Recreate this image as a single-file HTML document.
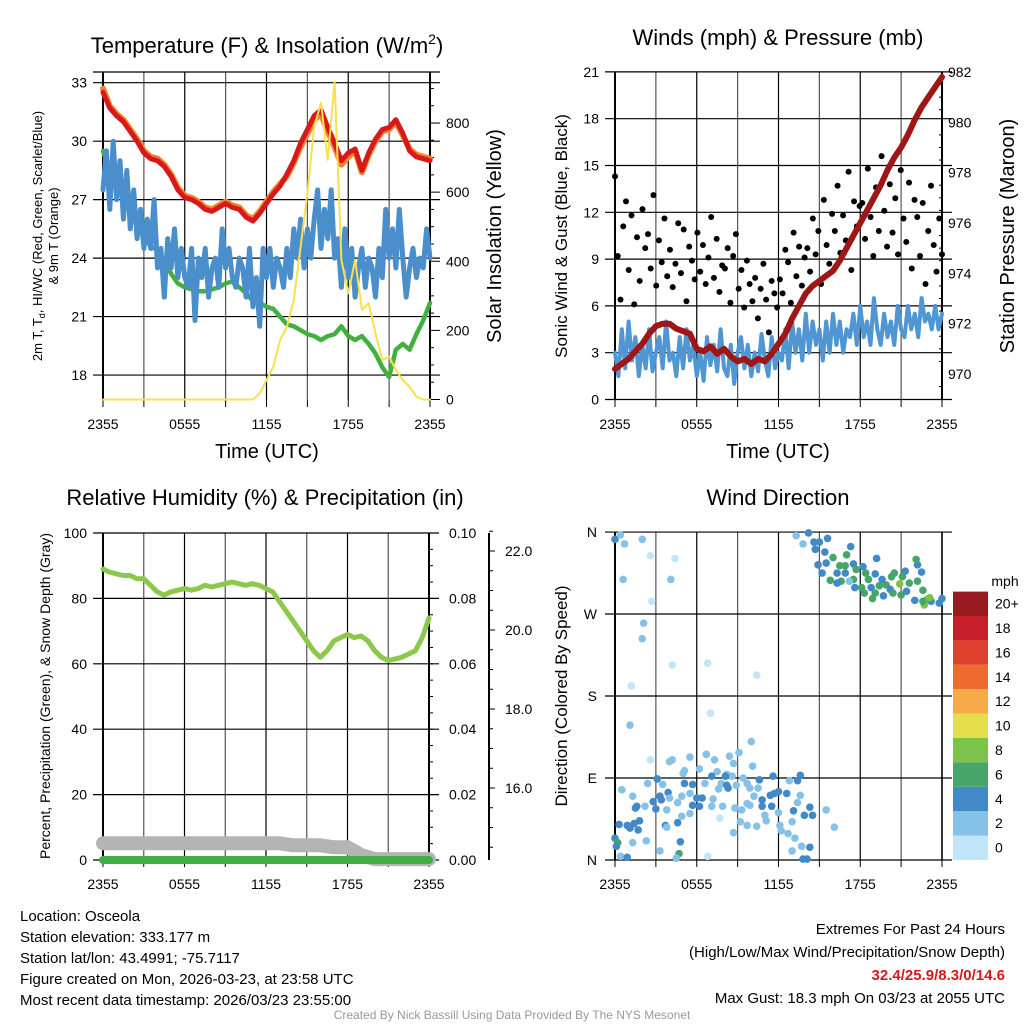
<!DOCTYPE html>
<html><head><meta charset="utf-8">
<style>
html,body{margin:0;padding:0;background:#fff;}
svg{display:block;font-family:"Liberation Sans",Arial,sans-serif;}
</style></head>
<body>
<svg id="chart" width="1024" height="1024" viewBox="0 0 1024 1024" xmlns="http://www.w3.org/2000/svg">
<rect x="0" y="0" width="1024" height="1024" fill="#fff"/>
<text x="267" y="53" font-size="22" text-anchor="middle">Temperature (F) &amp; Insolation (W/m<tspan font-size="14" dy="-9">2</tspan><tspan dy="9">)</tspan></text>
<text x="778" y="45" font-size="22" text-anchor="middle">Winds (mph) &amp; Pressure (mb)</text>
<text x="265" y="505" font-size="22" text-anchor="middle">Relative Humidity (%) &amp; Precipitation (in)</text>
<text x="778" y="505" font-size="22" text-anchor="middle">Wind Direction</text>
<text x="267" y="458" font-size="20" text-anchor="middle">Time (UTC)</text>
<text x="778" y="458" font-size="20" text-anchor="middle">Time (UTC)</text>
<text transform="translate(42,236) rotate(-90)" font-size="13" text-anchor="middle">2m T, T<tspan font-size="9" dy="3">d</tspan><tspan dy="-3">, HI/WC (Red, Green, Scarlet/Blue)</tspan></text>
<text transform="translate(58,236) rotate(-90)" font-size="13" text-anchor="middle">&amp; 9m T (Orange)</text>
<text transform="translate(501,236) rotate(-90)" font-size="20" text-anchor="middle">Solar Insolation (Yellow)</text>
<text transform="translate(567,236) rotate(-90)" font-size="17" text-anchor="middle">Sonic Wind &amp; Gust (Blue, Black)</text>
<text transform="translate(1014,236) rotate(-90)" font-size="20" text-anchor="middle">Station Pressure (Maroon)</text>
<text transform="translate(50,696) rotate(-90)" font-size="14" text-anchor="middle">Percent, Precipitation (Green), &amp; Snow Depth (Gray)</text>
<text transform="translate(567,696) rotate(-90)" font-size="17" text-anchor="middle">Direction (Colored By Speed)</text>
<g font-size="15">
<text x="20" y="921">Location: Osceola</text>
<text x="20" y="942">Station elevation: 333.177 m</text>
<text x="20" y="963">Station lat/lon: 43.4991; -75.7117</text>
<text x="20" y="984">Figure created on Mon, 2026-03-23, at 23:58 UTC</text>
<text x="20" y="1005">Most recent data timestamp: 2026/03/23 23:55:00</text>
</g>
<g font-size="15" text-anchor="end">
<text x="1005" y="934">Extremes For Past 24 Hours</text>
<text x="1005" y="957">(High/Low/Max Wind/Precipitation/Snow Depth)</text>
<text x="1005" y="980" fill="#d7191c" font-weight="bold">32.4/25.9/8.3/0/14.6</text>
<text x="1005" y="1003">Max Gust: 18.3 mph On 03/23 at 2055 UTC</text>
</g>
<text x="512" y="1019" font-size="12" fill="#999" text-anchor="middle">Created By Nick Bassill Using Data Provided By The NYS Mesonet</text>
<g id="layer"></g>
</svg>
<script>
// ---------- data ----------
const timeLabels = ["2355","0555","1155","1755","2355"];
const tempTicks = [18,21,24,27,30,33];
const insolTicks = [0,200,400,600,800];
const windTicks = [0,3,6,9,12,15,18,21];
const pressTicks = [970,972,974,976,978,980,982];
const rhTicks = [0,20,40,60,80,100];
const precipTicks = ["0.00","0.02","0.04","0.06","0.08","0.10"];
const snowTicks = ["16.0","18.0","20.0","22.0"];
const dirLabels = ["N","E","S","W","N"];
const speedBins = ["0","2","4","6","8","10","12","14","16","18","20+"];
const speedColors = ["#c2e6f9","#86c2e8","#4289c8","#47a56a","#7dc24b","#e6df4c","#f6aa48","#ef6a2e","#e0412f","#c61f29","#98191f"];

const tempRed = [32.5,31.7,31.3,31,30.5,30,29.4,29.1,29,28.7,28.2,27.5,27.1,27,26.8,26.5,26.4,26.6,26.8,26.6,26.5,26.1,25.9,26.3,26.8,27.3,27.7,28.3,29,29.9,30.6,31.3,31.6,30.7,29.9,29,29.4,29.6,28.5,29.4,30.1,30.6,30.7,31.1,30.4,29.5,29.2,29.1,29];
const tempOrange = [32.7,31.8,31.4,31.1,30.6,30.1,29.5,29.2,29.1,28.8,28.3,27.6,27.2,27.1,26.9,26.6,26.5,26.7,26.9,26.7,26.6,26.2,26,26.4,26.9,27.4,27.8,28.2,28.9,29.7,30.4,31.1,31.4,30.5,29.7,28.8,29.2,29.5,28.4,29.3,30,30.5,30.6,31,30.3,29.6,29.3,29.2,29.1];
const tempGreen = [29.5,28.5,28,27.3,26.6,25.9,25.1,24.6,24.4,23.9,23.2,22.7,22.5,22.4,22.3,22.3,22.4,22.5,22.7,22.8,22.5,22.2,21.8,21.7,21.5,21.4,21,20.6,20.5,20.3,20.1,20,19.8,20,20.1,20.5,20,19.8,20,19.6,19.1,18.4,17.9,19.3,19.6,19.3,20.1,20.8,21.7];
const tempBlue = [27.5,29.5,26.5,30,27, 29,26,28.5,25.5, 27.5,25,26.5,24.5, 26,24.5,27,23.5, 24.5,22,25,23.5, 25.5,23,24.5,23, 22.5,24.5,20.8,24, 23,24.5,22,23.5, 24,22.5,25.5,23.5, 24.5,23,22.5,24, 23.5,22,24.5,21.5, 23,20.5,24.5,23, 24.5,22.5,24,23.5, 22.5,24.5,23,25.5, 24,26,23.5,25.5, 24,26,27.5,24.5, 26.5,25,27.5,24, 25,22.5,25.5,23, 24.5,22,23.5,24.5, 22.5,24,23.5,22, 24.5,23,26.5,24, 25.5,23.5,26.5,24, 22,23.5,24.5,23, 24,23.5,25.5,24];
const insolation = [0,0,0,0,0,0,0,0,0,0,0,0,0,0,0,0,0,0,0,0,0,0,0,17,56,95,172,210,288,442,597,790,858,694,920,404,307,404,259,279,191,114,124,85,56,37,8,0,0];

const windSpeed = [3,1.5,4.5,2,5, 2.5,4,1.5,3.5, 2,4.5,1.8,3, 4,2,5,2.5, 3,1.5,4,2, 4.5,2.5,3.5,1.5, 3,1.2,4,2.2, 3.5,1.8,4.5,2, 1.5,3.5,1,3, 4,2,3.5,1.5, 3,1.8,4.2,2.5, 1.5,4,2,3, 2.5,4.5,2,5, 3,4.5,2.5,5.5, 3,5,3.5,4.5, 2.5,5,3,5.5, 3.5,5,3,4.5, 4,5.5,3.5,6, 4,5,3.5,6.5, 4.5,3.5,5.5,4, 5,3.5,6,4.5, 4,6,4.5,5.5, 4,6.5,5,5.5, 4.5,6,4.5,5.5];
const windGust = [14.3,9.2,6.4,11.1,12.7,8.3,11.8,6.1,10.4,7.6, 12.2,9.7,10.6,8.4,13.1,7.3,10.2,8.8,11.6,7.9, 9.6,7.2,8.7,11.3,8.1,10.9,6.3,9.8,8.9,7.7, 10.7,8.2,9.9,7.4,9.1,11.7,7.8,10.3,6.9,8.6, 8.4,9.7,6.2,9.2,10.6,7.1,8.3,5.9,8.9,7.4, 6.3,7.8,5.2,7.1,8.7,6.4,4.3,7.6,6.8,5.9, 7.7,6.8,9.6,8.8,6.2,10.7,7.9,9.8,7.3,9.1, 9.7,8.2,11.6,9.3,10.8,7.4,12.8,9.9,8.7,11.9, 10.8,13.7,9.4,11.8,10.2,14.6,8.3,12.7,11.1,12.4, 12.6,10.3,14.8,11.7,9.2,13.6,10.8,15.6,12.1,9.8, 13.8,10.7,12.9,9.3,14.7,11.6,10.1,13.9,8.4,12.8, 11.7,9.2,12.6,7.4,10.8,13.7,9.9,8.2,11.6,9.3];
const pressure = [970.2,970.4,970.6,970.9,971.2,971.6,971.9,972,972,971.8,971.7,971.6,971,970.9,971.1,970.8,971,970.7,970.5,970.6,970.4,970.6,970.5,970.8,971.2,971.6,972.2,972.7,973.2,973.5,973.7,973.9,974.1,974.5,975,975.5,976,976.5,977,977.5,978.1,978.6,979,979.5,980.1,980.6,981,981.4,981.8];

const relHumidity = [89,88,87.5,87,87,86,86,84,82,81,82,82.5,83,82.5,83,84,83.5,84,84.5,85,84.5,84,84.5,84,83,82,79,76,73,70,67,64,62,64,67,68,69,68,68.5,67,64,62,61,61.5,62,63,64,68,74];
const precipitation = [0,0,0,0,0,0,0,0,0,0,0,0,0,0,0,0,0,0,0,0,0,0,0,0,0];
const snowDepth = [14.6,14.6,14.6,14.6,14.6,14.6,14.6,14.6,14.6,14.6,14.6,14.6,14.6,14.6,14.55,14.55,14.55,14.5,14.5,14.3,14.2,14.2,14.2,14.2,14.2];

const dirHours = [0,0.4,0.7,2.0,2.6,4.4,0.6,4.1,2.7,2.1,2.0,4.2,6.8,10.4,1.2,7.0,1.1,10.0,2.6,
13.3,14.2,13.8,14.6,15.0,15.6,17.3,14.7,15.4,16.0,17.0,19.2,14.9,15.5,16.5,16.9,17.5,18.2,15.2,16.3,16.9,17.7,18.4,19.1,20.5,21.3,22.2,22.5,22.1,15.8,16.6,17.5,18.6,19.6,20.3,21.1,17.2,16.3,17.6,18.1,18.8,19.4,19.9,20.2,20.9,21.6,22.2,18.3,19.1,19.7,20.4,21.0,21.4,22.6,18.9,22.0,22.9,22.7,23.2,23.8,24.0,22.6,23.1,
3.1,3.5,2.4,0.5,1.3,3.3,3.4,3.9,2.8,4.0,1.6,2.2,1.5,3.0,3.8,4.6,1.8,1.4,0.9,0.3,1.1,1.7,3.7,3.8,4.6,4.9,0,0.2,0.1,1.3,2.3,3.3,4.8,4.7,0.4,0.9,4.5,6.8,13.8,14.1,
4.2,4.0,5.5,5.1,5.0,6.7,7.3,6.2,8.4,9.1,8.7,10.1,7.5,8.2,8.6,8.1,7.1,6.6,5.7,5.1,5.5,4.9,6.0,6.4,5.7,6.2,5.5,7.1,7.2,7.6,7.8,8.2,8.3,8.9,9.4,9.7,9.9,10.5,10.6,10.2,9.7,9.9,8.8,9.3,7.9,7.7,8.7,9.2,9.7,10.4,10.8,10.8,11.4,11.6,11.7,12.0,11.5,11.0,11.1,12.0,12.1,12.2,12.6,12.8,13.4,13.6,13.6,13.4,13.1,13.0,12.7,13.9,14.3,14.5,13.2,13.0,13.7,14.3,15.5,16.1];
const dirDegrees = [352,357,347,352,334,331,308,308,284,260,243,214,216,203,191,161,148,130,110,
356,359,347,349,349,353,344,341,338,332,335,331,324,326,323,323,325,322,315,315,315,319,315,314,315,317,324,316,330,307,306,308,308,308,311,311,306,304,299,299,299,301,302,297,303,304,306,293,293,290,293,291,295,296,287,285,286,280,284,282,287,284,288,
89,83,84,77,70,70,66,74,64,68,59,59,57,56,55,63,43,40,38,39,35,33,38,36,41,48,24,19,15,19,21,10,20,7,4,3,2,4,1,1,
110,108,113,98,95,116,110,100,114,118,106,103,97,94,92,92,92,84,83,84,73,70,68,68,60,59,51,59,67,78,84,82,79,82,90,84,79,79,88,70,62,60,57,55,59,46,30,42,38,37,59,66,71,92,73,75,59,49,43,52,38,32,73,87,87,93,71,63,54,42,29,49,58,49,24,10,15,14,55,36];
const dirSpeeds = [3.5,2,2,2,0.5,0.5,2,2,0.5,2,2,0.5,0.5,0.5,0.5,0.5,2,2,0.5,
2,3.5,2,3.5,3.5,3.5,3.5,3.5,3.5,5.5,5.5,3.5,3.5,3.5,5.5,5.5,3.5,3.5,3.5,3.5,3.5,5.5,5.5,3.5,5.5,3.5,3.5,3.5,5.5,5.5,5.5,5.5,5.5,3.5,5.5,5.5,2,3.5,3.5,5.5,3.5,5.5,5.5,3.5,7.5,5.5,5.5,5.5,5.5,3.5,5.5,5.5,3.5,5.5,5.5,3.5,7.5,7.5,3.5,3.5,3.5,5.5,7.5,
3.5,2,2,2,2,3.5,3.5,3.5,3.5,2,3.5,2,3.5,3.5,2,2,3.5,3.5,3.5,3.5,3.5,3.5,3.5,2,3.5,2,3.5,5.5,3.5,2,2,2,3.5,5.5,2,3.5,2,0.5,3.5,3.5,
2,2,2,2,2,2,2,2,2,2,2,2,2,2,2,3.5,3.5,2,3.5,3.5,2,2,3.5,3.5,3.5,3.5,2,2,2,2,2,3.5,3.5,2,2,2,2,2,3.5,2,2,2,2,2,2,0.5,2,2,2,2,3.5,3.5,3.5,3.5,3.5,3.5,3.5,2,2,2,2,2,3.5,2,3.5,3.5,2,2,3.5,2,2,3.5,3.5,3.5,2,2,2,3.5,2,2];

// ---------- helpers ----------
const NS = "http://www.w3.org/2000/svg";
const layer = document.getElementById("layer");
function mk(tag, attrs, parent) {
  const e = document.createElementNS(NS, tag);
  for (const k in attrs) e.setAttribute(k, attrs[k]);
  (parent || layer).appendChild(e);
  return e;
}
function txt(s, x, y, size, anchor, parent) {
  const t = mk("text", {x: x, y: y, "font-size": size, "text-anchor": anchor || "middle"}, parent);
  t.textContent = s;
  return t;
}
function lineSeries(vals, fx, fy, color, w, name, parent) {
  let d = "";
  let pen = false;
  vals.forEach((v, i) => {
    if (v === null) { pen = false; return; }
    d += (pen ? "L" : "M") + fx(i * 24 / (vals.length - 1)).toFixed(1) + " " + fy(v).toFixed(1);
    pen = true;
  });
  const p = mk("path", {d: d, fill: "none", stroke: color, "stroke-width": w, "stroke-linejoin": "round", "stroke-linecap": "round"}, parent);
  
  
  return p;
}
function frame(P, name) {
  const g = mk("g", {});
  
  
  for (let k = 0; k <= 8; k++) {
    const x = P.x0 + k * (P.x1 - P.x0) / 8;
    mk("line", {x1: x, x2: x, y1: P.y0, y2: P.y1, stroke: k % 2 ? "#555" : "#000", "stroke-width": 1.2}, g);
  }
  return g;
}
function xAxis(P, g) {
  timeLabels.forEach((s, k) => {
    const x = P.x0 + k * (P.x1 - P.x0) / 4;
    txt(s, x, P.y1 + 29, 14, "middle", g);
  });
  for (let k = 0; k <= 8; k++) {
    const x = P.x0 + k * (P.x1 - P.x0) / 8;
    mk("line", {x1: x, x2: x, y1: P.y1, y2: P.y1 + 7, stroke: "#000", "stroke-width": 1}, g);
  }
}
function hgrid(P, ys, g) {
  ys.forEach(y => mk("line", {x1: P.x0 - 10, x2: P.x1 + 10, y1: y, y2: y, stroke: "#000", "stroke-width": 1.2}, g));
}

// ---------- panel 1 ----------
const P1 = {x0: 103, x1: 430, y0: 72, y1: 400};
const fx1 = h => P1.x0 + h / 24 * (P1.x1 - P1.x0);
const yT = v => 82.7 + (33 - v) * 19.49;
const yI = v => 399.5 - v * 0.3456;
const g1 = frame(P1, "temperature-panel");
hgrid(P1, tempTicks.map(yT).concat([P1.y0]), g1);
tempTicks.forEach(v => txt(String(v), P1.x0 - 16, yT(v) + 5, 14, "end", g1));
insolTicks.forEach(v => txt(String(v), P1.x1 + 16, yI(v) + 5, 14, "start", g1));
for (let v = 0; v <= 900; v += 50) mk("line", {x1: P1.x1, x2: P1.x1 + (v % 200 ? 4 : 10), y1: yI(v), y2: yI(v), stroke: "#000"}, g1);
mk("line", {x1: P1.x0, x2: P1.x0, y1: P1.y0, y2: P1.y1, stroke: "#000", "stroke-width": 2}, g1);
mk("line", {x1: P1.x1, x2: P1.x1, y1: P1.y0, y2: P1.y1, stroke: "#000", "stroke-width": 2}, g1);
xAxis(P1, g1);
lineSeries(tempOrange, fx1, yT, "#f5822a", 6, "series-9m-temp-orange", g1);
lineSeries(tempRed, fx1, yT, "#d7191c", 5, "series-2m-temp-red", g1);
lineSeries(tempGreen, fx1, yT, "#41b040", 4.5, "series-dewpoint-green", g1);
lineSeries(tempBlue, fx1, yT, "#4a8fcb", 5, "series-windchill-blue", g1);
lineSeries(insolation, fx1, yI, "#f8e04e", 2, "series-insolation-yellow", g1);

// ---------- panel 2 ----------
const P2 = {x0: 615, x1: 942, y0: 72, y1: 400};
const fx2 = h => P2.x0 + h / 24 * (P2.x1 - P2.x0);
const yW = v => 399.5 - v * 15.6;
const yP = v => 374 - (v - 970) * 25.17;
const g2 = frame(P2, "winds-panel");
hgrid(P2, windTicks.map(yW), g2);
windTicks.forEach(v => txt(String(v), P2.x0 - 16, yW(v) + 5, 14, "end", g2));
pressTicks.forEach(v => txt(String(v), P2.x1 + 6, yP(v) + 5, 14, "start", g2));
for (let v = 969.5; v <= 982; v += 0.5) mk("line", {x1: P2.x1, x2: P2.x1 - (v % 2 ? 3 : 0), y1: yP(v), y2: yP(v), stroke: "#000"}, g2);
mk("line", {x1: P2.x0, x2: P2.x0, y1: P2.y0, y2: P2.y1, stroke: "#000", "stroke-width": 2}, g2);
mk("line", {x1: P2.x1, x2: P2.x1, y1: P2.y0, y2: P2.y1, stroke: "#000", "stroke-width": 2}, g2);
xAxis(P2, g2);
lineSeries(windSpeed, fx2, yW, "#4f96d2", 4, "series-sonic-wind-blue", g2);
windGust.forEach((v, i) => {
  const c = mk("circle", {cx: fx2(i * 24 / (windGust.length - 1)), cy: yW(v), r: 3, fill: "#000"}, g2);
  
  
});
lineSeries(pressure, fx2, yP, "#9e1616", 6, "series-pressure-maroon", g2);

// ---------- panel 3 ----------
const P3 = {x0: 103, x1: 429, y0: 533, y1: 860};
const fx3 = h => P3.x0 + h / 24 * (P3.x1 - P3.x0);
const yRH = v => 860 - v * 3.27;
const yPr = v => 860 - v * 3270;
const ySn = v => 788 - (v - 16) * 39.5;
const g3 = frame(P3, "humidity-panel");
hgrid(P3, rhTicks.map(yRH), g3);
rhTicks.forEach(v => txt(String(v), P3.x0 - 16, yRH(v) + 5, 14, "end", g3));
precipTicks.forEach(s => txt(s, P3.x1 + 20, yPr(parseFloat(s)) + 5, 14, "start", g3));
for (let v = 0; v <= 0.1001; v += 0.005) mk("line", {x1: P3.x1, x2: P3.x1 + 4, y1: yPr(v), y2: yPr(v), stroke: "#000"}, g3);
mk("line", {x1: P3.x0, x2: P3.x0, y1: P3.y0, y2: P3.y1, stroke: "#000", "stroke-width": 2}, g3);
mk("line", {x1: P3.x1, x2: P3.x1, y1: P3.y0, y2: P3.y1, stroke: "#000", "stroke-width": 2}, g3);
mk("line", {x1: 489, x2: 489, y1: 533, y2: 860, stroke: "#000", "stroke-width": 2}, g3);
snowTicks.forEach(s => {
  const y = ySn(parseFloat(s));
  txt(s, 505, y + 5, 14, "start", g3);
  mk("line", {x1: 489, x2: 495, y1: y, y2: y, stroke: "#000"}, g3);
});
for (let v = 14.5; v <= 22.5; v += 0.5) mk("line", {x1: 489, x2: 493, y1: ySn(v), y2: ySn(v), stroke: "#000"}, g3);
xAxis(P3, g3);
lineSeries(snowDepth, fx3, ySn, "#b4b4b4", 14, "series-snow-depth-gray", g3);
lineSeries(precipitation, fx3, yPr, "#3fae45", 8, "series-precip-green", g3);
lineSeries(relHumidity, fx3, yRH, "#8cc84b", 5, "series-rh-green", g3);

// ---------- panel 4 ----------
const P4 = {x0: 615, x1: 942, y0: 532, y1: 860};
const fx4 = h => P4.x0 + h / 24 * (P4.x1 - P4.x0);
const yD = d => 860 - d * 0.911;
const g4 = frame(P4, "wind-direction-panel");
hgrid(P4, [0, 90, 180, 270, 360].map(yD), g4);
dirLabels.forEach((s, k) => txt(s, P4.x0 - 18, yD(k * 90) + 5, 14, "end", g4));
mk("line", {x1: P4.x0, x2: P4.x0, y1: P4.y0, y2: P4.y1, stroke: "#000", "stroke-width": 2}, g4);
mk("line", {x1: P4.x1, x2: P4.x1, y1: P4.y0, y2: P4.y1, stroke: "#000", "stroke-width": 1.5}, g4);
xAxis(P4, g4);
dirHours.forEach((h, i) => {
  const s = dirSpeeds[i];
  const bin = Math.min(10, Math.floor((s + 1) / 2));
  const c = mk("circle", {cx: fx4(h), cy: yD(dirDegrees[i]), r: 3.8, fill: speedColors[bin]}, g4);
  
  
});

// colorbar
const gl = mk("g", {});


txt("mph", 1005, 586, 14, "middle", gl);
speedBins.forEach((s, k) => {
  const y = 860 - (k + 1) * 24.4;
  const r = mk("rect", {x: 953, y: y, width: 35, height: 24.4, fill: speedColors[k]}, gl);
  
  
  txt(s, 995, y + 17, 14, "start", gl);
});
</script>
</body></html>
